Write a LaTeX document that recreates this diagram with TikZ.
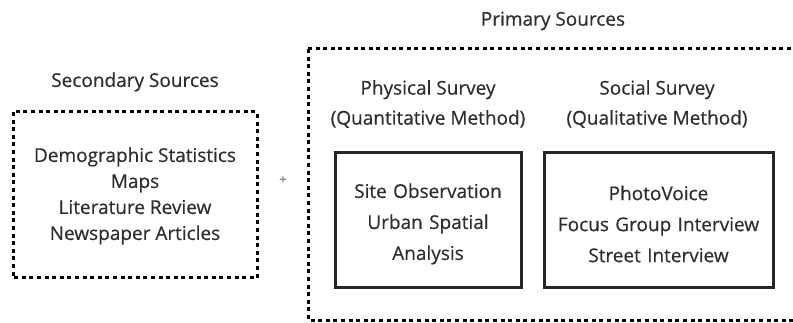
\documentclass[tikz,border=0pt]{standalone}
\usepackage{fontspec}
\setmainfont[FakeBold=0.5]{Open Sans}
\begin{document}
\begin{tikzpicture}[x=1pt,y=-1pt,
  txt/.style={text=black!82,font=\fontsize{19}{26}\selectfont,inner sep=0pt,align=center},
  dbox/.style={draw=black,line width=3pt,dash pattern=on 4pt off 3.6pt},
  sbox/.style={draw=black!85,line width=3pt}]
\useasboundingbox (0,0) rectangle (793,323);
\begin{scope}
\clip (0,0) rectangle (793,323);
\draw[dbox] (308,49) -- (810,49) (308,49) -- (308,320) -- (810,320);
\end{scope}
\node[txt] (prim) at (553,21) {Primary Sources};
\node[txt] (sec) at (135,82) {Secondary Sources};
\draw[dbox] (13,112) rectangle (257,278);
\node[txt] (seclist) at (135,196) {Demographic Statistics\\Maps\\Literature Review\\Newspaper Articles};
\node[text=black!60,font=\fontsize{13}{14}\selectfont,inner sep=0pt] (plus) at (283,180) {+};
\node[txt,font=\fontsize{19}{30}\selectfont] (phys) at (428,104) {Physical Survey\\(Quantitative Method)};
\node[txt,font=\fontsize{19}{30}\selectfont] (soc) at (657,104) {Social Survey\\(Qualitative Method)};
\node[sbox,minimum width=186pt,minimum height=135pt,inner sep=0pt] (b1) at (428,220.5) {};
\node[sbox,minimum width=229pt,minimum height=135pt,inner sep=0pt] (b2) at (658.5,220.5) {};
\node[txt,font=\fontsize{19}{31}\selectfont,text width=180pt] (b1t) at (428,224) {Site Observation\\Urban Spatial\\Analysis};
\node[txt,font=\fontsize{19}{31}\selectfont,text width=225pt] (b2t) at (658.5,224) {PhotoVoice\\Focus Group Interview\\Street Interview};
\end{tikzpicture}
\end{document}
